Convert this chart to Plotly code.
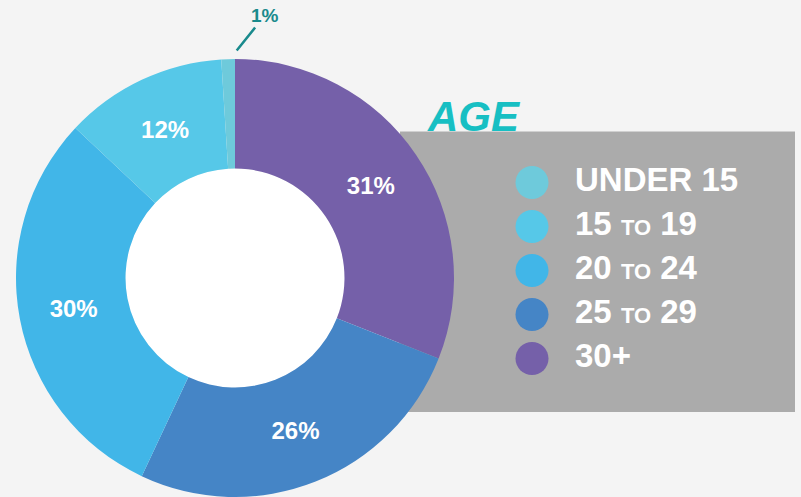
import plotly.graph_objects as go

# ---- data ----
age_groups = ["UNDER 15", "15 TO 19", "20 TO 24", "25 TO 29", "30+"]
legend_labels = ["UNDER 15",
                 "15 <span style='font-size:22px'>TO</span> 19",
                 "20 <span style='font-size:22px'>TO</span> 24",
                 "25 <span style='font-size:22px'>TO</span> 29",
                 "30+"]
shares = [1, 12, 30, 26, 31]
colors = ["#6ecadb", "#56c8e8", "#41b6e8", "#4585c6", "#7560a9"]
title_text = "AGE"

# ---- layout constants (pixels) ----
W, H = 801, 497
CX, CY = 235, 278            # donut centre (from top-left)
R = 219                      # outer radius
HOLE = 0.5
BOX = dict(x0=400, x1=795, y0=131.5, y1=412)   # grey panel, pixels

def px_x(v):
    return min(max(v / W, 0), 1)

def px_y(v):
    return min(max((H - v) / H, 0), 1)

fig = go.Figure()

# title text and grey panel on a pixel-space overlay (panel drawn after title so it clips it)
fig.add_trace(go.Scatter(
    x=[BOX["x0"] + 28], y=[BOX["y0"] + 10], mode="text", text=[f"<b><i>{title_text}</i></b>"],
    textposition="top right",
    textfont=dict(family="Liberation Sans", size=42, color="#17bfc3"),
    xaxis="x", yaxis="y", showlegend=False, hoverinfo="skip",
))
fig.add_trace(go.Scatter(
    x=[BOX["x0"], BOX["x1"], BOX["x1"], BOX["x0"], BOX["x0"]],
    y=[BOX["y0"], BOX["y0"], BOX["y1"], BOX["y1"], BOX["y0"]],
    mode="lines", fill="toself", fillcolor="#ababab", line=dict(width=0),
    xaxis="x", yaxis="y", showlegend=False, hoverinfo="skip",
))

# donut (clockwise from 12 o'clock, starting with 30+)
fig.add_trace(go.Pie(
    labels=age_groups[::-1],
    values=shares[::-1],
    marker=dict(colors=colors[::-1], line=dict(width=0)),
    hole=HOLE,
    sort=False,
    direction="clockwise",
    rotation=0,
    texttemplate="%{value}%",
    textposition=["inside"] * (len(shares) - 1) + ["none"],
    insidetextorientation="horizontal",
    textfont=dict(family="Liberation Sans", size=24, color="white", weight="bold"),
    domain=dict(x=[px_x(CX - R), px_x(CX + R)], y=[px_y(CY + R), px_y(CY - R)]),
    showlegend=False,
    hoverinfo="label+percent",
))

# legend drawn as markers + text on an overlay axis
idx = list(range(len(age_groups)))
fig.add_trace(go.Scatter(
    x=[0] * len(idx), y=idx, mode="markers",
    marker=dict(size=33, color=colors, line=dict(width=0)),
    xaxis="x2", yaxis="y2", showlegend=False, hoverinfo="skip",
))
fig.add_trace(go.Scatter(
    x=[1] * len(idx), y=idx, mode="text",
    text=legend_labels, textposition="middle right",
    textfont=dict(family="Liberation Sans", size=33, color="white", weight="bold"),
    xaxis="x2", yaxis="y2", showlegend=False, hoverinfo="skip",
))

first_label = f"{shares[0]}%"

fig.update_layout(
    width=W, height=H,
    margin=dict(l=0, r=0, t=0, b=0),
    paper_bgcolor="#f4f4f4",
    plot_bgcolor="rgba(0,0,0,0)",
    xaxis=dict(domain=[0, 1], range=[0, W], visible=False, fixedrange=True),
    yaxis=dict(domain=[0, 1], range=[H, 0], visible=False, fixedrange=True),
    xaxis2=dict(domain=[px_x(510.5), px_x(790)], range=[-0.5, 6],
                visible=False, fixedrange=True, anchor="y2"),
    yaxis2=dict(domain=[px_y(380.5), px_y(160.5)], range=[len(idx) - 0.5, -0.5],
                visible=False, fixedrange=True, anchor="x2"),
    shapes=[
        dict(type="circle", xref="paper", yref="paper",
             x0=px_x(CX - R * HOLE), x1=px_x(CX + R * HOLE),
             y0=px_y(CY + R * HOLE), y1=px_y(CY - R * HOLE),
             fillcolor="white", line=dict(width=0), layer="below"),
    ],
    annotations=[
        dict(text=f"<b>{first_label}</b>", xref="paper", yref="paper",
             x=px_x(CX + 1.7), y=px_y(CY - R - 8.5),
             ax=28, ay=-35, axref="pixel", ayref="pixel",
             showarrow=True, arrowhead=0, arrowwidth=2.5, arrowcolor="#198a8c",
             standoff=0,
             font=dict(family="Liberation Sans", size=19, color="#198a8c")),
    ],
)

fig.write_html("out.html")
